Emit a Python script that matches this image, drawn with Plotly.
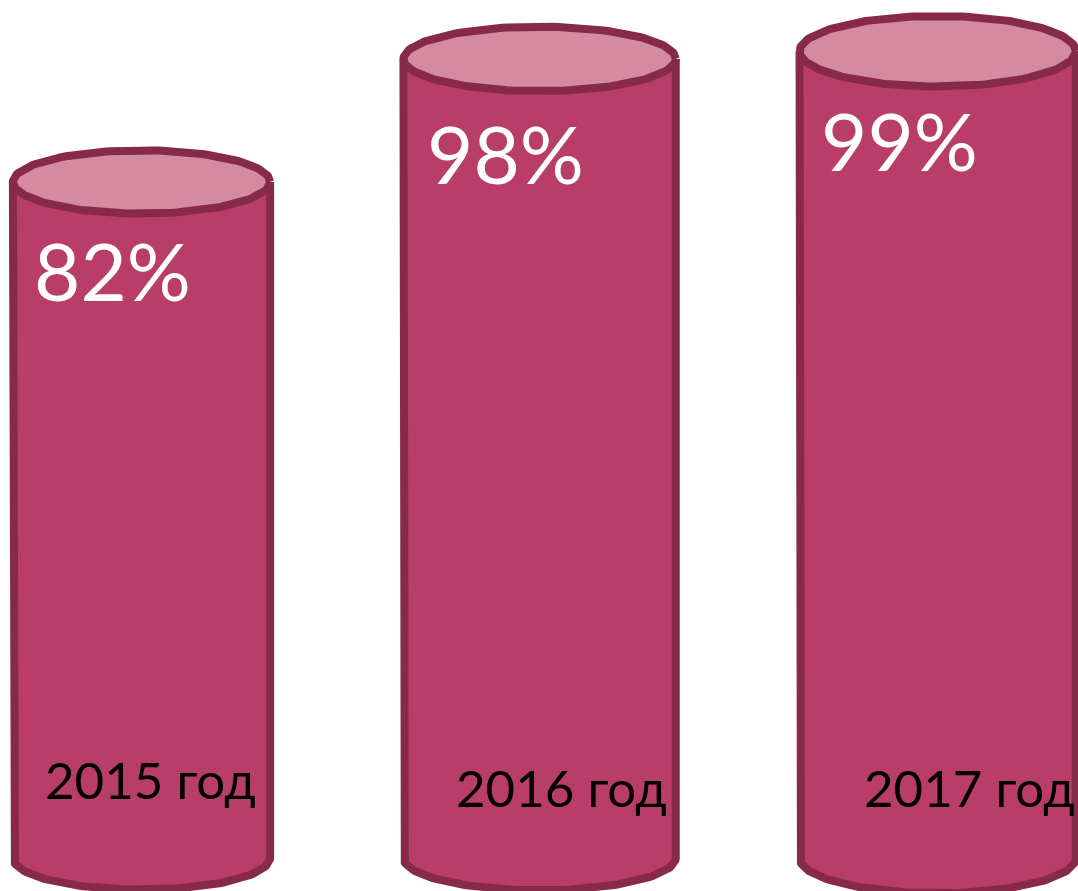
import numpy as np
import plotly.graph_objects as go

# ---- data ----
categories = ["2015 год", "2016 год", "2017 год"]
values = [82, 98, 99]
pct_labels = ["82%", "98%", "99%"]

# ---- style constants ----
BODY = "#B83D68"
TOP = "#D48BA2"
EDGE = "#872A4A"
LW = 8
BASE = -5.92                        # floor of the cylinders (axis units)
HALF_W = [0.323, 0.342, 0.347]      # cylinder half-width in x units
RY = [4.12, 4.20, 4.59]             # ellipse half-height in y units
PCT_XSHIFT = [-109.5, -114.6, -118.7]
PCT_YSHIFT = [-88, -94, -89]
YEAR_XSHIFT = [-98, -86, -76]
YEAR_Y = [4.29, 3.19, 3.19]

fig = go.Figure()
t_bot = np.linspace(np.pi, 2 * np.pi, 90)
t_full = np.linspace(0, 2 * np.pi, 181)

for i, (cat, v) in enumerate(zip(categories, values)):
    c, r, ry = i, HALF_W[i], RY[i]
    # body: left side, bottom front arc, right side
    bx = [c - r] + list(c + r * np.cos(t_bot)) + [c + r]
    by = [v] + list(BASE + ry * np.sin(t_bot)) + [v]
    fig.add_trace(go.Scatter(x=bx, y=by, mode="lines", fill="toself",
                             fillcolor=BODY, line=dict(color=EDGE, width=LW),
                             hoverinfo="skip", showlegend=False))
    # top ellipse
    tx = c + r * np.cos(t_full)
    ty = v + ry * np.sin(t_full)
    fig.add_trace(go.Scatter(x=tx, y=ty, mode="lines", fill="toself",
                             fillcolor=TOP, line=dict(color=EDGE, width=LW),
                             hoverinfo="skip", showlegend=False))
    # percent label
    fig.add_annotation(x=c, y=v, text=pct_labels[i], showarrow=False,
                       xanchor="left", yanchor="middle",
                       xshift=PCT_XSHIFT[i], yshift=PCT_YSHIFT[i],
                       font=dict(family="Lato", size=80, color="white"))
    # year label
    fig.add_annotation(x=c, y=YEAR_Y[i], text=cat, showarrow=False,
                       xanchor="left", yanchor="middle",
                       xshift=YEAR_XSHIFT[i],
                       font=dict(family="Lato", size=51, color="black"))

fig.update_layout(
    width=1078, height=891,
    margin=dict(l=0, r=0, t=0, b=0),
    paper_bgcolor="white", plot_bgcolor="white",
    xaxis=dict(range=[-0.3554, 2.3524], visible=False, fixedrange=True),
    yaxis=dict(range=[-10.208, 105.657], visible=False, fixedrange=True),
    showlegend=False,
)

fig.write_html("out.html")
